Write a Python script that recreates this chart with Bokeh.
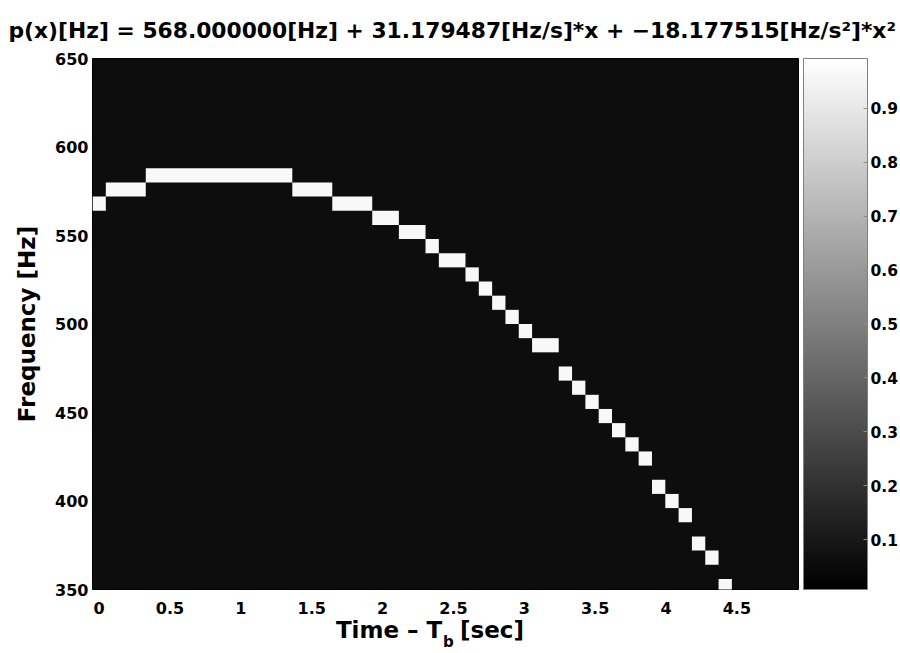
from bokeh.plotting import figure
from bokeh.models import (FixedTicker, LinearColorMapper, ColorBar, LinearAxis,
                          ColumnDataSource)
from bokeh.palettes import Greys256
from bokeh.embed import file_html
from bokeh.resources import INLINE

# ---------------- data ----------------
title_text = "p(x)[Hz] = 568.000000[Hz] + 31.179487[Hz/s]*x + \u221218.177515[Hz/s\u00b2]*x\u00b2"

# runs of lit cells: start time, end time [s] and frequency bin centre [Hz]
run_start_s = [-0.047, 0.047, 0.329, 1.363, 1.645, 1.927, 2.115, 2.303, 2.397, 2.585,
               2.679, 2.773, 2.867, 2.961, 3.055, 3.243, 3.337, 3.431, 3.525, 3.619,
               3.713, 3.807, 3.901, 3.995, 4.089, 4.183, 4.277, 4.371]
run_end_s = [0.047, 0.329, 1.363, 1.645, 1.927, 2.115, 2.303, 2.397, 2.585, 2.679,
             2.773, 2.867, 2.961, 3.055, 3.243, 3.337, 3.431, 3.525, 3.619, 3.713,
             3.807, 3.901, 3.995, 4.089, 4.183, 4.277, 4.371, 4.465]
run_freq_hz = [568, 576, 584, 576, 568, 560, 552, 544, 536, 528,
               520, 512, 504, 496, 488, 472, 464, 456, 448, 440,
               432, 424, 408, 400, 392, 376, 368, 352]
freq_bin_hz = 8

x_ticks = [0, 0.5, 1, 1.5, 2, 2.5, 3, 3.5, 4, 4.5]
x_tick_labels = ["0", "0.5", "1", "1.5", "2", "2.5", "3", "3.5", "4", "4.5"]
y_ticks = [350, 400, 450, 500, 550, 600, 650]
y_tick_labels = ["350", "400", "450", "500", "550", "600", "650"]
cbar_ticks = [0.1, 0.2, 0.3, 0.4, 0.5, 0.6, 0.7, 0.8, 0.9]
cbar_tick_labels = ["0.1", "0.2", "0.3", "0.4", "0.5", "0.6", "0.7", "0.8", "0.9"]
cbar_low = 0.008
cbar_high = 0.992

# x-axis title "Time – T_b [sec]": main pieces and the subscript
xlabel_main_text = ["Time \u2013 T", "[sec]"]
xlabel_main_at = [2.046, 2.772]
xlabel_sub_text = ["b"]
xlabel_sub_at = [2.465]

FONT = "DejaVu Sans"

# ---------------- figure ----------------
p = figure(width=900, height=653, x_range=(-0.047, 4.935), y_range=(350, 650),
           output_backend="svg", toolbar_location=None,
           min_border_left=92, min_border_right=101, min_border_top=57, min_border_bottom=63,
           title=title_text)
p.background_fill_color = "#0d0d0d"
p.border_fill_color = "white"
p.outline_line_color = "#000000"
p.grid.visible = False

p.title.text_font = FONT
p.title.text_font_style = "bold"
p.title.text_font_size = "21.8px"
p.title.align = "left"
p.title.offset = -84
p.title.text_color = "black"
p.title.standoff = 31

src = ColumnDataSource(dict(
    left=run_start_s,
    right=run_end_s,
    bottom=[f - freq_bin_hz / 2 for f in run_freq_hz],
    top=[f + freq_bin_hz / 2 for f in run_freq_hz],
))
p.quad(left="left", right="right", bottom="bottom", top="top", source=src,
       fill_color="#f8f8f8", line_color=None)


def plain_axis(ax, size):
    ax.major_label_text_font = FONT
    ax.major_label_text_font_style = "bold"
    ax.major_label_text_font_size = size
    ax.major_label_text_color = "black"
    ax.axis_line_color = None
    ax.major_tick_line_color = None
    ax.minor_tick_line_color = None
    ax.major_tick_out = 0
    ax.major_tick_in = 0
    ax.minor_tick_out = 0
    ax.minor_tick_in = 0


plain_axis(p.xaxis[0], "16px")
plain_axis(p.yaxis[0], "16px")

p.xaxis.ticker = FixedTicker(ticks=x_ticks)
p.xaxis.major_label_overrides = dict(zip(x_ticks, x_tick_labels))
p.xaxis.major_label_standoff = 12
p.yaxis.ticker = FixedTicker(ticks=y_ticks)
p.yaxis.major_label_overrides = dict(zip(y_ticks, y_tick_labels))
p.yaxis.major_label_standoff = 4

p.yaxis.axis_label = "Frequency [Hz]"
p.yaxis.axis_label_text_font = FONT
p.yaxis.axis_label_text_font_style = "bold"
p.yaxis.axis_label_text_font_size = "23px"
p.yaxis.axis_label_text_color = "black"
p.yaxis.axis_label_standoff = 12

# x-axis title drawn as tick labels of two extra (invisible-line) axes,
# so that the subscript can sit lower than the main text
ax_main = LinearAxis(ticker=FixedTicker(ticks=xlabel_main_at),
                     major_label_overrides=dict(zip(xlabel_main_at, xlabel_main_text)))
plain_axis(ax_main, "23px")
ax_main.major_label_standoff = 0
p.add_layout(ax_main, "below")

ax_sub = LinearAxis(ticker=FixedTicker(ticks=xlabel_sub_at),
                    major_label_overrides=dict(zip(xlabel_sub_at, xlabel_sub_text)))
plain_axis(ax_sub, "15px")
ax_sub.major_label_standoff = -13
p.add_layout(ax_sub, "below")

# colour bar
mapper = LinearColorMapper(palette=Greys256, low=cbar_low, high=cbar_high)
cb = ColorBar(color_mapper=mapper, ticker=FixedTicker(ticks=cbar_ticks),
              major_label_overrides=dict(zip(cbar_ticks, cbar_tick_labels)),
              width=64, padding=0, margin=0, label_standoff=3, location=(5, 0),
              major_label_text_font=FONT, major_label_text_font_style="bold",
              major_label_text_font_size="15.5px", major_label_text_color="black",
              major_tick_in=4, major_tick_out=0, major_tick_line_color="#8c8c8c",
              minor_tick_line_color=None,
              bar_line_color="#808080", border_line_color=None,
              background_fill_color=None)
p.add_layout(cb, "right")

open("out.html", "w").write(file_html(p, INLINE))
